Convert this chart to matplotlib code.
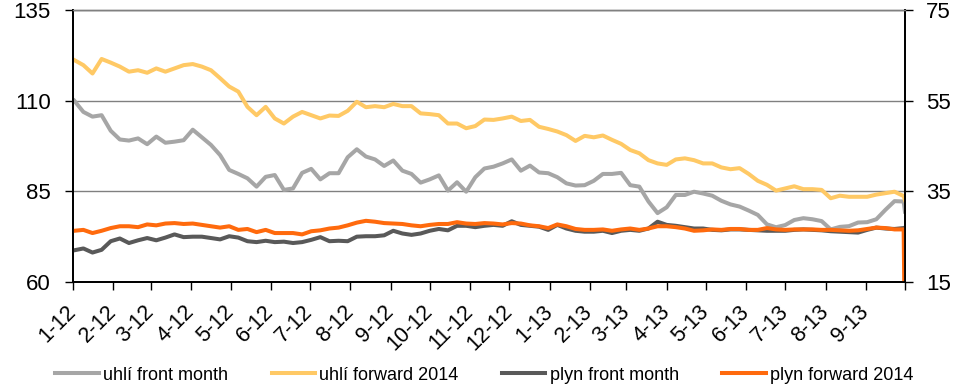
import matplotlib
matplotlib.use("Agg")
import matplotlib.pyplot as plt
import pandas as pd

plt.rcParams["font.family"] = ["Liberation Sans", "DejaVu Sans"]

# weekly observations (Mondays), plus the closing day of the series
dates = pd.date_range("2012-01-02", periods=92, freq="7D").append(pd.DatetimeIndex(["2013-10-01"]))

# coal, USD/t (left axis)
uhli_front = [
    110.0, 106.9, 105.6, 106.0, 101.7, 99.3, 99.0, 99.6, 98.0, 100.1, 98.4, 98.7,
    99.1, 102.0, 99.9, 97.8, 95.0, 90.9, 89.8, 88.6, 86.3, 89.0, 89.5, 85.4,
    85.8, 90.1, 91.2, 88.3, 90.0, 90.0, 94.4, 96.6, 94.6, 93.8, 92.0, 93.5,
    90.7, 89.8, 87.4, 88.3, 89.4, 85.2, 87.5, 84.9, 88.9, 91.3, 91.8,
    92.7, 93.8, 90.7, 92.1, 90.2, 90.0, 88.9, 87.2, 86.6, 86.7, 87.9, 89.8,
    89.8, 90.1, 86.7, 86.3, 82.2, 79.0, 80.6, 84.0, 84.0, 84.9, 84.4,
    83.8, 82.4, 81.4, 80.8, 79.7, 78.5, 75.9, 75.1, 75.7, 77.1, 77.6, 77.3,
    76.8, 74.5, 75.2, 75.4, 76.4, 76.5, 77.3, 79.9, 82.3, 82.2,
    79.4,
]
uhli_fwd = [
    121.2, 119.8, 117.5, 121.5, 120.5, 119.4, 118.0, 118.4, 117.7, 118.9, 118.0, 118.9,
    119.8, 120.1, 119.4, 118.4, 116.2, 113.9, 112.5, 108.3, 106.0, 108.3, 105.1, 103.7,
    105.6, 106.9, 106.0, 105.1, 105.9, 105.8, 107.2, 109.7, 108.2, 108.5, 108.2, 109.1,
    108.5, 108.5, 106.5, 106.3, 106.0, 103.7, 103.7, 102.4, 103.0, 104.8, 104.7,
    105.1, 105.6, 104.4, 104.7, 102.8, 102.2, 101.5, 100.5, 98.9, 100.3, 99.9, 100.4,
    99.2, 98.1, 96.4, 95.5, 93.6, 92.7, 92.3, 93.8, 94.1, 93.6, 92.7,
    92.7, 91.6, 91.1, 91.4, 89.8, 87.9, 86.8, 85.2, 85.8, 86.4, 85.6, 85.6,
    85.4, 83.1, 83.8, 83.5, 83.5, 83.5, 84.1, 84.5, 84.9, 83.7,
    82.6,
]

# gas, EUR/MWh (right axis)
plyn_front = [
    22.0, 22.4, 21.5, 22.1, 24.0, 24.6, 23.6, 24.2, 24.7, 24.2, 24.8, 25.5,
    24.9, 25.0, 25.0, 24.7, 24.4, 25.1, 24.8, 24.0, 23.8, 24.1, 23.8, 23.9,
    23.6, 23.8, 24.3, 24.9, 24.0, 24.1, 24.0, 25.0, 25.1, 25.1, 25.3, 26.3,
    25.7, 25.4, 25.7, 26.3, 26.7, 26.4, 27.4, 27.4, 27.1, 27.4, 27.6,
    27.4, 28.4, 27.6, 27.4, 27.2, 26.5, 27.6, 26.8, 26.3, 26.1, 26.1, 26.3,
    25.8, 26.3, 26.5, 26.3, 26.8, 28.3, 27.6, 27.4, 27.1, 26.8, 26.8,
    26.5, 26.4, 26.6, 26.6, 26.5, 26.4, 26.3, 26.3, 26.3, 26.5, 26.6, 26.5,
    26.4, 26.2, 26.1, 26.0, 25.9, 26.5, 27.0, 26.8, 26.7, 26.9,
    27.0,
]
plyn_fwd = [
    26.3, 26.5, 25.8, 26.3, 26.9, 27.3, 27.3, 27.1, 27.7, 27.5, 27.9, 28.0,
    27.8, 27.9, 27.6, 27.3, 27.0, 27.3, 26.5, 26.7, 26.0, 26.5, 25.8, 25.8,
    25.8, 25.5, 26.2, 26.4, 26.8, 27.0, 27.5, 28.1, 28.5, 28.3, 28.0, 27.9,
    27.8, 27.5, 27.3, 27.6, 27.8, 27.8, 28.2, 27.9, 27.8, 28.0, 27.9,
    27.7, 28.0, 27.9, 27.5, 27.3, 26.9, 27.7, 27.3, 26.7, 26.5, 26.5, 26.6,
    26.3, 26.6, 26.8, 26.5, 26.8, 27.3, 27.3, 27.1, 26.8, 26.3, 26.4,
    26.6, 26.5, 26.7, 26.7, 26.5, 26.5, 26.9, 26.6, 26.5, 26.6, 26.6, 26.6,
    26.5, 26.5, 26.4, 26.3, 26.4, 26.7, 27.0, 26.9, 26.6, 26.6,
    0.0,
]

month_starts = pd.date_range("2012-01-01", "2013-10-01", freq="MS")
month_labels = ["1-12", "2-12", "3-12", "4-12", "5-12", "6-12", "7-12", "8-12", "9-12",
                "10-12", "11-12", "12-12", "1-13", "2-13", "3-13", "4-13", "5-13", "6-13",
                "7-13", "8-13", "9-13", ""]

fig = plt.figure(figsize=(9.69, 3.87), dpi=100)
ax = fig.add_axes([0.0753, 0.2713, 0.8586, 0.7028])
ax2 = ax.twinx()

lw = 2.9
l1, = ax.plot(dates, uhli_front, color="#A6A6A6", lw=lw, label="uhlí front month")
l2, = ax.plot(dates, uhli_fwd, color="#FFC965", lw=lw, label="uhlí forward 2014")
l3, = ax2.plot(dates, plyn_front, color="#595959", lw=lw, label="plyn front month")
l4, = ax2.plot(dates, plyn_fwd, color="#FF6A0D", lw=lw, label="plyn forward 2014")

ax.set_xlim(pd.Timestamp("2012-01-01"), pd.Timestamp("2013-10-01"))
ax.set_ylim(60, 135)
ax.set_yticks([60, 85, 110, 135])
ax2.set_ylim(15, 75)
ax2.set_yticks([15, 35, 55, 75])
ax.grid(axis="y", color="#808080", lw=1)
ax.set_axisbelow(True)

for a in (ax, ax2):
    for side in ("left", "right", "bottom"):
        a.spines[side].set_color("black")
        a.spines[side].set_linewidth(1.3)
    a.spines["top"].set_color("#808080")
    a.spines["top"].set_linewidth(1)

ax.set_xticks(month_starts)
ax.set_xticklabels(month_labels)
ax.tick_params(axis="x", direction="out", length=6, width=1, pad=13, labelsize=15.5)
for lbl in ax.get_xticklabels():
    lbl.set_rotation(45)
    lbl.set_ha("right")
    lbl.set_va("center")
    lbl.set_rotation_mode("anchor")
ax.tick_params(axis="y", direction="out", length=6, width=1, pad=10, labelsize=16)
ax2.tick_params(axis="y", direction="out", length=6, width=1, pad=9, labelsize=16)

fig.legend(handles=[l1, l2, l3, l4], loc="center", bbox_to_anchor=(0.5, 1 - 375 / 387),
           ncol=4, frameon=False, fontsize=13, handlelength=2.4, handletextpad=0.25,
           columnspacing=2.4)

fig.savefig("out.png", dpi=100)
